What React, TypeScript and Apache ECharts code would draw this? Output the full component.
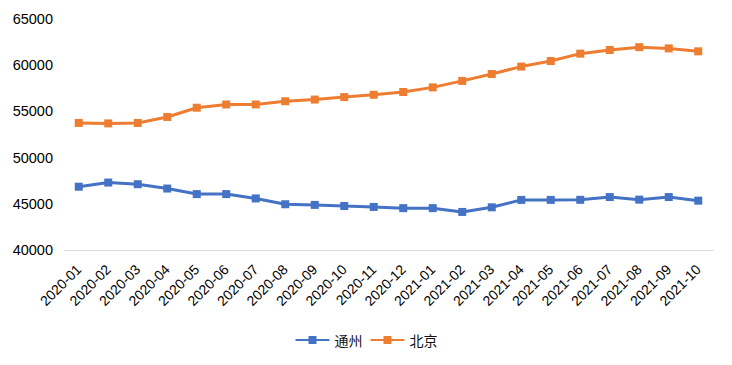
import React, { useEffect, useRef } from "react";
import * as echarts from "echarts";

const categories = [
  "2020-01", "2020-02", "2020-03", "2020-04", "2020-05", "2020-06", "2020-07", "2020-08",
  "2020-09", "2020-10", "2020-11", "2020-12", "2021-01", "2021-02", "2021-03", "2021-04",
  "2021-05", "2021-06", "2021-07", "2021-08", "2021-09", "2021-10",
];

const tongzhou = [
  46850, 47300, 47120, 46650, 46050, 46050, 45580, 44950, 44880, 44760, 44660, 44530,
  44530, 44120, 44620, 45420, 45420, 45430, 45730, 45450, 45730, 45340,
];

const beijing = [
  53750, 53700, 53750, 54400, 55400, 55750, 55750, 56100, 56280, 56550, 56800, 57100,
  57600, 58300, 59050, 59850, 60450, 61250, 61650, 61950, 61820, 61500,
];

const yTicks = { min: 40000, max: 65000, interval: 5000 };

export default function App() {
  const ref = useRef<HTMLDivElement>(null);
  useEffect(() => {
    if (!ref.current) return;
    const chart = echarts.init(ref.current, undefined, { renderer: "svg" });
    const font = "'Liberation Sans', Arial, 'Noto Sans CJK SC', sans-serif";
    chart.setOption({
      animation: false,
      backgroundColor: "#ffffff",
      textStyle: { fontFamily: font },
      grid: { left: 64, right: 19, top: 19, bottom: 115, containLabel: false },
      legend: {
        left: "center",
        top: 328,
        itemWidth: 34,
        itemHeight: 10,
        itemGap: 7,
        textStyle: { fontSize: 14, color: "#111", fontFamily: "'Noto Sans CJK SC', sans-serif" },
        data: ["通州", "北京"],
      },
      xAxis: {
        type: "category",
        data: categories,
        boundaryGap: true,
        axisLine: { show: true, lineStyle: { color: "#d9d9d9", width: 1 } },
        axisTick: { show: false },
        axisLabel: { rotate: 45, interval: 0, fontSize: 14, color: "#000", margin: 17 },
      },
      yAxis: {
        type: "value",
        min: yTicks.min,
        max: yTicks.max,
        interval: yTicks.interval,
        splitLine: { show: false },
        axisLine: { show: false },
        axisTick: { show: false },
        axisLabel: { fontSize: 14.5, color: "#000", margin: 11, formatter: (v: number) => String(v) },
      },
      series: [
        {
          name: "通州",
          type: "line",
          data: tongzhou,
          symbol: "rect",
          symbolSize: 8,
          lineStyle: { width: 3, color: "#4472C4" },
          itemStyle: { color: "#4472C4" },
        },
        {
          name: "北京",
          type: "line",
          data: beijing,
          symbol: "rect",
          symbolSize: 8,
          lineStyle: { width: 3, color: "#ED7D31" },
          itemStyle: { color: "#ED7D31" },
        },
      ],
    });
    return () => chart.dispose();
  }, []);
  return <div ref={ref} style={{ width: 732, height: 365, position: "absolute", left: 0, top: 0 }} />;
}
